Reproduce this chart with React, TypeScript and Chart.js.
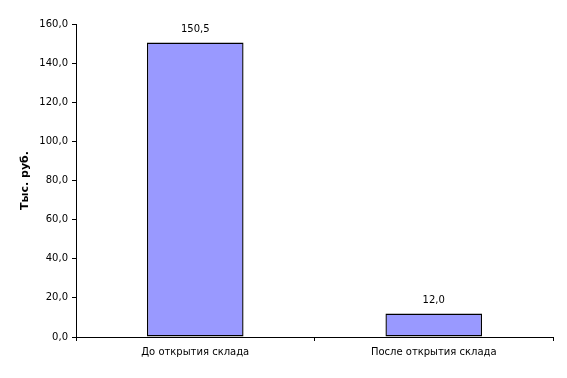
import React, { useEffect, useRef } from "react";
import { Chart, registerables } from "chart.js";

Chart.register(...registerables);

const categories = ["До открытия склада", "После открытия склада"];
const values = [150.5, 12.0];
const yTitle = "Тыс. руб.";
const yMin = 0;
const yMax = 160;
const yStep = 20;

const fmt = (v: number) => v.toFixed(1).replace(".", ",");

const valueLabels = {
  id: "valueLabels",
  afterDatasetsDraw(chart: any) {
    const ctx = chart.ctx;
    const meta = chart.getDatasetMeta(0);
    ctx.save();
    ctx.font = "10px 'DejaVu Sans'";
    ctx.fillStyle = "#000";
    ctx.textAlign = "center";
    ctx.textBaseline = "alphabetic";
    meta.data.forEach((bar: any, i: number) => {
      ctx.fillText(fmt(values[i]), bar.x, bar.y - 11);
    });
    ctx.restore();
  },
};

export default function App() {
  const ref = useRef<HTMLCanvasElement>(null);
  useEffect(() => {
    document.body.style.margin = "0";
    const chart = new Chart(ref.current!, {
      type: "bar",
      data: {
        labels: categories,
        datasets: [
          {
            data: values,
            backgroundColor: "#9999FF",
            borderColor: "#000000",
            borderWidth: 1.4,
            borderSkipped: false,
            categoryPercentage: 0.81,
            barPercentage: 0.5,
          },
        ],
      },
      options: {
        responsive: false,
        animation: false,
        devicePixelRatio: 1,
        layout: { padding: { left: 0, right: 14, top: 24, bottom: 0 } },
        plugins: {
          legend: { display: false },
          tooltip: { enabled: false },
        },
        scales: {
          x: {
            grid: {
              offset: true,
              drawOnChartArea: false,
              drawTicks: true,
              tickLength: 4,
              color: "#000",
            },
            border: { display: true, color: "#000", width: 1 },
            ticks: {
              color: "#000",
              font: { family: "'DejaVu Sans'", size: 10 },
              padding: 5,
              maxRotation: 0,
              autoSkip: false,
            },
            afterFit(scale: any) {
              scale.height = 41;
            },
          },
          y: {
            min: yMin,
            max: yMax,
            grid: {
              drawOnChartArea: false,
              drawTicks: true,
              tickLength: 4,
              color: "#000",
            },
            border: { display: true, color: "#000", width: 1 },
            ticks: {
              stepSize: yStep,
              color: "#000",
              font: { family: "'DejaVu Sans'", size: 10 },
              padding: 4,
              callback: (v: any) => fmt(Number(v)),
            },
            title: {
              display: true,
              text: yTitle,
              color: "#000",
              font: { family: "'DejaVu Sans'", size: 11, weight: "bold" },
              padding: { top: 19, bottom: 0 },
            },
            afterFit(scale: any) {
              scale.width = 76;
            },
          },
        },
      },
      plugins: [valueLabels],
    });
    return () => chart.destroy();
  }, []);
  return (
    <div style={{ position: "absolute", left: 0, top: 0, width: 567, height: 378, background: "#fff" }}>
      <canvas ref={ref} width={567} height={378} style={{ display: "block" }} />
    </div>
  );
}
